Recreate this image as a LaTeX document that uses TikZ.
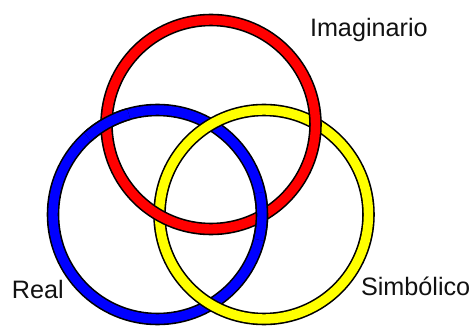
\documentclass[tikz,border=0pt]{standalone}
\usepackage{fontspec}
\setmainfont{Liberation Sans}
\usepackage{tikz}
\usetikzlibrary{calc}
\definecolor{ringRed}{HTML}{FF0000}
\definecolor{ringBlue}{HTML}{0000FF}
\definecolor{ringYellow}{HTML}{FFFF00}
\definecolor{ringInk}{HTML}{111111}

\begin{document}
\begin{tikzpicture}[
  x=1pt,y=1pt,
  font=\fontsize{25.2}{28}\selectfont,
  every node/.style={text=ringInk,inner sep=0pt,outer sep=0pt},
  rim/.style={line width=12.6pt,draw=black},
  band/.style={line width=9.4pt},
  label/.style={anchor=base west}
]
\path[use as bounding box] (0,0) rectangle (472,325);
\coordinate (cRed) at (211,200.5);
\coordinate (cBlue) at (157.5,110.5);
\coordinate (cYellow) at (264,110.5);
% full rings: blue, yellow, red
\draw[rim] (cBlue) circle[radius=104.5];
\draw[band,draw=ringBlue] (cBlue) circle[radius=104.5];
\draw[rim] (cYellow) circle[radius=104.5];
\draw[band,draw=ringYellow] (cYellow) circle[radius=104.5];
\draw[rim] (cRed) circle[radius=104.5];
\draw[band,draw=ringRed] (cRed) circle[radius=104.5];
% blue passes over red at both crossings
\foreach \a in {-1,119}{
  \draw[rim] ($(cBlue)+(\a-13:104.5)$) arc[start angle=\a-13,end angle=\a+13,radius=104.5];
  \draw[band,draw=ringBlue] ($(cBlue)+(\a-13:104.5)$) arc[start angle=\a-13,end angle=\a+13,radius=104.5];
}
% labels
\node[label] (imag) at (310,288) {Imaginario};
\node[label] (real) at (12,27) {Real};
\node[label] (simb) at (361,30) {Simbólico};
\end{tikzpicture}
\end{document}
